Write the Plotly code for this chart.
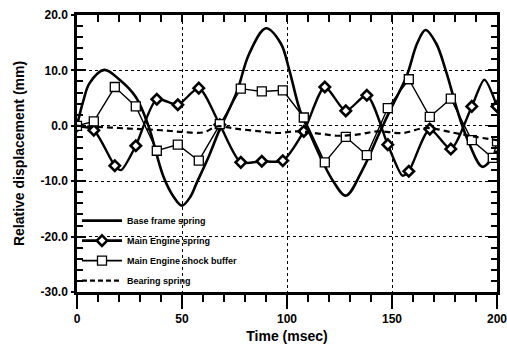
import plotly.graph_objects as go

# ---------------- data ----------------
# Base frame spring (smooth solid line, no markers)
bf_x = [0, 3, 6, 13, 20, 28, 34, 41, 46, 50, 54, 57, 63, 68, 76, 82, 90, 97, 101, 106, 111, 117, 122, 128,
        136, 144, 150, 157, 162, 166, 171, 176, 181, 186, 193, 197, 200]
bf_y = [0, 4.5, 7.7, 10.1, 8.4, 5.2, 0.0, -9.0, -12.8, -14.4, -12.8, -10.3, -5.3, -0.6, 6.0, 13.0, 17.6, 14.9,
        10.2, 3.0, -1.5, -6.5, -10.0, -12.6, -7.9, -1.3, 3.5, 9.0, 14.9, 17.3, 14.9, 9.5, 2.9, -2.5, -7.4,
        -6.2, -4.5]

# Main Engine spring (smooth line with diamond markers)
me_line_x = [0, 8, 18, 21, 28, 38, 48, 58, 68, 78, 88, 98, 108, 118, 128, 138, 148, 155, 158, 168, 178,
             188, 194, 200]
me_line_y = [0, -0.8, -7.2, -8.0, -3.6, 4.8, 3.8, 6.8, 0.2, -6.6, -6.4, -6.3, -1.0, 7.0, 2.7, 5.5, -3.4,
             -9.0, -8.2, -0.6, -4.2, 3.5, 8.3, 3.5]
me_mk_x = [0, 8, 18, 28, 38, 48, 58, 68, 78, 88, 98, 108, 118, 128, 138, 148, 158, 168, 178, 188, 200]
me_mk_y = [0, -0.8, -7.2, -3.6, 4.8, 3.8, 6.8, 0.2, -6.6, -6.4, -6.3, -1.0, 7.0, 2.7, 5.5, -3.4, -8.2,
           -0.6, -4.2, 3.5, 3.5]

# Main Engine shock buffer (straight segments with square markers)
sb_x = [0, 8, 18, 28, 38, 48, 58, 68, 78, 88, 98, 108, 118, 128, 138, 148, 158, 168, 178, 188, 198, 200]
sb_y = [0, 0.8, 7.0, 3.5, -4.5, -3.4, -6.3, 0.3, 6.7, 6.2, 6.4, 1.5, -6.6, -2.0, -5.3, 3.2, 8.4, 1.6,
        4.9, -2.6, -5.8, -2.8]

# Bearing spring (dashed)
bs_x = [0, 10, 20, 30, 40, 50, 60, 67, 75, 85, 95, 105, 115, 125, 135, 143, 155, 166, 180, 190, 200]
bs_y = [0, -0.2, -0.4, -0.6, -0.8, -1.1, -1.2, -0.1, -0.5, -0.9, -1.3, -1.0, -1.4, -1.8, -1.5, -1.0,
        -1.3, -0.4, -1.3, -2.0, -2.6]

names = ["Base frame spring", "Main Engine spring", "Main Engine shock buffer", "Bearing spring"]
x_ticks = [0, 50, 100, 150, 200]
y_ticks = [-30, -20, -10, 0, 10, 20]

FONT = "Liberation Sans, Arial, sans-serif"
BLACK = "#000000"

fig = go.Figure()

# data traces
fig.add_trace(go.Scatter(x=bf_x, y=bf_y, mode="lines", line=dict(color=BLACK, width=2.6, shape="spline", smoothing=1.0),
                         showlegend=False, hoverinfo="skip"))
fig.add_trace(go.Scatter(x=me_line_x, y=me_line_y, mode="lines",
                         line=dict(color=BLACK, width=2.4, shape="spline", smoothing=0.7),
                         showlegend=False, hoverinfo="skip"))
fig.add_trace(go.Scatter(x=me_mk_x, y=me_mk_y, mode="markers",
                         marker=dict(symbol="diamond", size=8, color="white", line=dict(color=BLACK, width=2.6)),
                         showlegend=False))
fig.add_trace(go.Scatter(x=sb_x, y=sb_y, mode="lines+markers", line=dict(color=BLACK, width=1.4),
                         marker=dict(symbol="square", size=9, color="white", line=dict(color=BLACK, width=1.3)),
                         showlegend=False))
fig.add_trace(go.Scatter(x=bs_x, y=bs_y, mode="lines",
                         line=dict(color=BLACK, width=2.2, dash="6px,4px", shape="spline"),
                         showlegend=False, hoverinfo="skip"))

# legend entries
fig.add_trace(go.Scatter(x=[None], y=[None], mode="lines", name=names[0], legendgroup="a",
                         line=dict(color=BLACK, width=2.6)))
fig.add_trace(go.Scatter(x=[None], y=[None], mode="lines+markers", name=names[1], legendgroup="b",
                         line=dict(color=BLACK, width=2.6),
                         marker=dict(symbol="diamond", size=8, color="white", line=dict(color=BLACK, width=2.6))))
fig.add_trace(go.Scatter(x=[None], y=[None], mode="lines+markers", name=names[2], legendgroup="c",
                         line=dict(color=BLACK, width=1.6),
                         marker=dict(symbol="square", size=9, color="white", line=dict(color=BLACK, width=1.3))))
fig.add_trace(go.Scatter(x=[None], y=[None], mode="lines", name=names[3], legendgroup="d",
                         line=dict(color=BLACK, width=2.2, dash="5px,3px")))

# extra axes for ticks
fig.add_trace(go.Scatter(x=[0, 200], y=[None, None], xaxis="x2", yaxis="y", showlegend=False, hoverinfo="skip"))
fig.add_trace(go.Scatter(x=[None, None], y=[-30, 20], xaxis="x", yaxis="y2", showlegend=False, hoverinfo="skip"))

fig.update_layout(
    width=507, height=345,
    margin=dict(l=77, r=10, t=15, b=53, autoexpand=False),
    paper_bgcolor="white", plot_bgcolor="white",
    font=dict(family=FONT, color=BLACK, size=12, weight="bold"),
    xaxis=dict(range=[0, 200], tickvals=x_ticks, ticktext=[str(v) for v in x_ticks], automargin=False,
               ticklabeloverflow="allow",
               ticks="outside", ticklen=14, tickwidth=2, tickcolor=BLACK,
               minor=dict(dtick=10, tick0=0, ticks="outside", ticklen=7, tickwidth=1.6, tickcolor=BLACK, showgrid=False),
               showline=True, linewidth=2.5, linecolor=BLACK,
               showgrid=True, gridcolor=BLACK, gridwidth=1, griddash="3px,3px", zeroline=False,
               tickfont=dict(size=12, family=FONT, weight="bold"),
               title=dict(text="Time (msec)", font=dict(size=14, family=FONT, weight="bold"), standoff=7)),
    xaxis2=dict(range=[0, 200], overlaying="x", side="top", anchor="y", automargin=False,
                dtick=10, tick0=0, ticks="inside", ticklen=7, tickwidth=1.6, tickcolor=BLACK,
                showticklabels=False, showline=True, linewidth=2.5, linecolor=BLACK,
                showgrid=False, zeroline=False),
    yaxis=dict(range=[-30, 20], tickvals=y_ticks, ticktext=[f"{v:.1f}" for v in y_ticks], automargin=False,
               ticklabeloverflow="allow",
               ticks="inside", ticklen=9, tickwidth=2, tickcolor=BLACK, mirror="ticks",
               minor=dict(dtick=2, tick0=0, ticks="inside", ticklen=6, tickwidth=1.6, tickcolor=BLACK, showgrid=False),
               showline=True, linewidth=2.5, linecolor=BLACK,
               showgrid=True, gridcolor=BLACK, gridwidth=1, griddash="3px,3px", zeroline=False,
               tickfont=dict(size=12, family=FONT, weight="bold"), ticklabelstandoff=4,
               title=dict(text="Relative displacement (mm)", font=dict(size=14, family=FONT, weight="bold"), standoff=13)),
    yaxis2=dict(range=[-30, 20], overlaying="y", side="left", anchor="x", automargin=False,
                tickvals=y_ticks, ticks="outside", ticklen=5, tickwidth=2, tickcolor=BLACK,
                showticklabels=False, showline=False, showgrid=False, zeroline=False),
    legend=dict(x=0.0, xanchor="left", y=0.31, yanchor="top", bgcolor="rgba(0,0,0,0)",
                font=dict(size=9, family=FONT, weight="bold", color=BLACK),
                tracegroupgap=1, itemwidth=40, traceorder="grouped"),
    showlegend=True,
)

fig.write_html("out.html")
